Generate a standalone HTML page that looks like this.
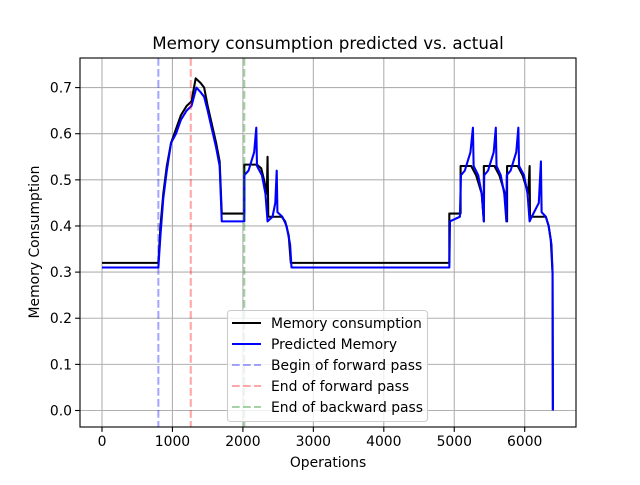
<!DOCTYPE html>
<html><head><meta charset="utf-8"><style>
body{margin:0;background:#fff;}
svg text{font-family:"DejaVu Sans","Liberation Sans",sans-serif;}
</style></head><body>
<svg id="c" width="640" height="480" xmlns="http://www.w3.org/2000/svg"></svg>
<script>
const xTicks=[0,1000,2000,3000,4000,5000,6000];
const yTicks=[0.0,0.1,0.2,0.3,0.4,0.5,0.6,0.7];
const vlines=[800,1260,2020];
const actualX=[0,800,830,870,920,980,1050,1120,1200,1270,1330,1400,1450,1500,1560,1620,1670,1700,2020,2020,2200,2260,2300,2340,2350,2360,2550,2600,2650,2680,4930,4930,5090,5090,5240,5310,5390,5420,5420,5570,5640,5720,5750,5750,5900,5970,6050,6070,6075,6300,6340,6370,6395,6400];
const actualY=[0.32,0.32,0.40,0.47,0.53,0.58,0.61,0.64,0.66,0.67,0.72,0.71,0.70,0.66,0.62,0.58,0.54,0.427,0.427,0.533,0.533,0.525,0.50,0.47,0.55,0.42,0.42,0.41,0.38,0.32,0.32,0.427,0.427,0.53,0.53,0.51,0.47,0.41,0.53,0.53,0.51,0.47,0.41,0.53,0.53,0.51,0.47,0.53,0.42,0.42,0.40,0.37,0.30,0.0];
const predX=[0,800,830,870,920,980,1050,1120,1200,1270,1340,1400,1450,1500,1560,1620,1670,1700,2020,2020,2080,2160,2190,2200,2270,2320,2350,2420,2460,2480,2490,2560,2620,2670,2690,4930,4940,5080,5095,5150,5230,5265,5275,5340,5390,5420,5425,5480,5560,5590,5600,5660,5710,5740,5745,5800,5880,5910,5920,5990,6040,6070,6100,6200,6230,6240,6300,6340,6380,6395,6400];
const predY=[0.31,0.31,0.38,0.46,0.52,0.58,0.60,0.63,0.65,0.66,0.70,0.69,0.68,0.65,0.61,0.57,0.53,0.41,0.41,0.51,0.52,0.56,0.613,0.53,0.51,0.47,0.41,0.42,0.45,0.52,0.43,0.42,0.40,0.36,0.31,0.31,0.41,0.42,0.51,0.52,0.56,0.613,0.53,0.51,0.47,0.41,0.51,0.52,0.56,0.613,0.53,0.51,0.47,0.41,0.51,0.52,0.56,0.613,0.53,0.51,0.47,0.41,0.42,0.45,0.54,0.43,0.42,0.40,0.36,0.30,0.0];

const L=80,R=576,T=58,B=427;
const X=v=>102+v*0.07045;
const Y=v=>410.5-v*461.3;
const svg=document.getElementById('c');
const NS='http://www.w3.org/2000/svg';
function mk(t,a,p){const e=document.createElementNS(NS,t);for(const k in a)e.setAttribute(k,a[k]);(p||svg).appendChild(e);return e;}

xTicks.forEach(t=>{
 const l=mk('line',{x1:X(t),x2:X(t),y1:T,y2:B,stroke:'#b0b0b0','stroke-width':1.1});
 
 
 mk('line',{x1:X(t),x2:X(t),y1:B,y2:B+4.9,stroke:'#000','stroke-width':1.1});
 const tx=mk('text',{x:X(t),y:B+19,'font-size':13.9,'text-anchor':'middle'});tx.textContent=t;
 
 
});
yTicks.forEach(t=>{
 const l=mk('line',{x1:L,x2:R,y1:Y(t),y2:Y(t),stroke:'#b0b0b0','stroke-width':1.1});
 
 
 mk('line',{x1:L-4.9,x2:L,y1:Y(t),y2:Y(t),stroke:'#000','stroke-width':1.1});
 const tx=mk('text',{x:L-8,y:Y(t)+5,'font-size':13.9,'text-anchor':'end'});tx.textContent=t.toFixed(1);
 
 
});
function poly(xs,ys,color,name){
 const p=mk('polyline',{points:xs.map((x,i)=>X(x)+','+Y(ys[i])).join(' '),fill:'none',stroke:color,'stroke-width':2.08,'stroke-linejoin':'round'});
 
 
}
poly(actualX,actualY,'#000','actual-memory-line');
poly(predX,predY,'#0000ff','predicted-memory-line');
const vc=['rgba(0,0,255,0.35)','rgba(255,0,0,0.35)','rgba(0,128,0,0.35)'];
const vn=['begin-forward-line','end-forward-line','end-backward-line'];
vlines.forEach((v,i)=>{
 const l=mk('line',{x1:X(v),x2:X(v),y1:T,y2:B,stroke:vc[i],'stroke-width':2.08,'stroke-dasharray':'7.7,3.3'});
 
 
});
mk('rect',{x:L,y:T,width:R-L,height:B-T,fill:'none',stroke:'#000','stroke-width':1.1});
let t=mk('text',{x:328,y:49,'font-size':16.7,'text-anchor':'middle'});t.textContent='Memory consumption predicted vs. actual';

t=mk('text',{x:328,y:467,'font-size':13.9,'text-anchor':'middle'});t.textContent='Operations';

t=mk('text',{x:0,y:0,'font-size':13.9,'text-anchor':'middle',transform:'translate(39,242) rotate(-90)'});t.textContent='Memory Consumption';

const lg=mk('g',{});
mk('rect',{x:227.5,y:310.5,width:200,height:111,rx:3,fill:'rgba(255,255,255,0.8)',stroke:'#ccc','stroke-width':1.1},lg);
const le=[['Memory consumption','#000',''],['Predicted Memory','#0000ff',''],['Begin of forward pass',vc[0],'7.7,3.3'],['End of forward pass',vc[1],'7.7,3.3'],['End of backward pass',vc[2],'7.7,3.3']];
le.forEach((e,i)=>{
 const y=323+i*21;
 const g=mk('g',{},lg);
 
 
 mk('line',{x1:232,x2:261,y1:y,y2:y,stroke:e[1],'stroke-width':2.08,'stroke-dasharray':e[2]||'none'},g);
 const tx=mk('text',{x:271,y:y+5,'font-size':13.9},g);tx.textContent=e[0];
});
</script>
</body></html>
